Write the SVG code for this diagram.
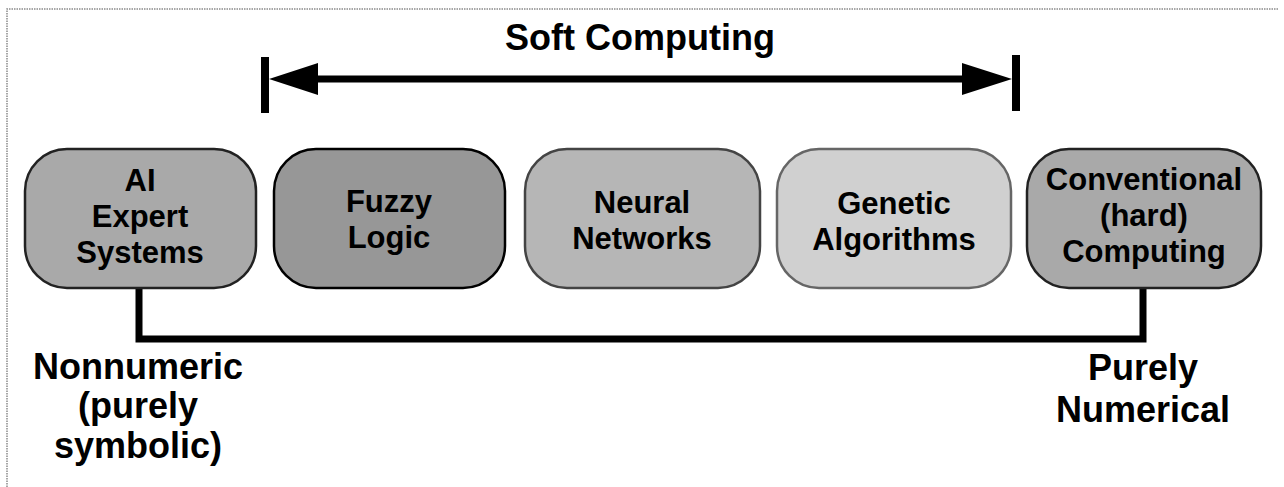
<svg xmlns="http://www.w3.org/2000/svg" width="1284" height="487" viewBox="0 0 1284 487">
<style>
  .frame { stroke:#8a8a8a; stroke-width:1.5; stroke-dasharray:1.5 1; fill:none; }
  .box { stroke-width:2.5; }
  .lbl { font-family:"Liberation Sans", Arial, Helvetica, sans-serif; font-weight:bold; fill:#000; text-anchor:middle; }
  .node { font-size:31px; }
  .big { font-size:36px; }
  .conn { stroke:#000; stroke-width:7; fill:none; stroke-linejoin:miter; }
</style>
<rect width="1284" height="487" fill="#fff"/>
<path class="frame" d="M7,487 V9 H1279"/>

<g id="title">
  <text class="lbl big" x="640" y="50">Soft Computing</text>
</g>

<g id="connectors">
  <line class="conn" x1="316" y1="79" x2="964" y2="79"/>
  <rect x="261" y="57" width="8" height="56" fill="#000"/>
  <polygon points="269,79 318,63 318,95" fill="#000"/>
  <rect x="1012" y="55" width="8" height="56" fill="#000"/>
  <polygon points="1012,79 962,63 962,95" fill="#000"/>
  <path class="conn" d="M139,288 V339 H1143 V288"/>
</g>

<g id="ai">
  <rect class="box" x="25" y="149" width="231" height="139" rx="42" fill="#a9a9a9" stroke="#222"/>
  <text class="lbl node" x="140" y="191">AI</text>
  <text class="lbl node" x="140" y="227">Expert</text>
  <text class="lbl node" x="140" y="263">Systems</text>
</g>

<g id="fuzzy">
  <rect class="box" x="274" y="149" width="231" height="139" rx="42" fill="#979797" stroke="#000" stroke-width="3"/>
  <text class="lbl node" x="389" y="212">Fuzzy</text>
  <text class="lbl node" x="389" y="248">Logic</text>
</g>

<g id="neural">
  <rect class="box" x="525" y="149" width="235" height="139" rx="42" fill="#b6b6b6" stroke="#444"/>
  <text class="lbl node" x="642" y="213">Neural</text>
  <text class="lbl node" x="642" y="249">Networks</text>
</g>

<g id="genetic">
  <rect class="box" x="777" y="149" width="234" height="139" rx="42" fill="#d0d0d0" stroke="#666" stroke-width="2"/>
  <text class="lbl node" x="894" y="214">Genetic</text>
  <text class="lbl node" x="894" y="250">Algorithms</text>
</g>

<g id="conventional">
  <rect class="box" x="1027" y="149" width="234" height="139" rx="42" fill="#a9a9a9" stroke="#222"/>
  <text class="lbl node" x="1144" y="190">Conventional</text>
  <text class="lbl node" x="1144" y="226">(hard)</text>
  <text class="lbl node" x="1144" y="262">Computing</text>
</g>

<g id="nonnumeric">
  <text class="lbl big" x="138" y="379">Nonnumeric</text>
  <text class="lbl big" x="138" y="418">(purely</text>
  <text class="lbl big" x="138" y="458">symbolic)</text>
</g>

<g id="numerical">
  <text class="lbl big" x="1143" y="380">Purely</text>
  <text class="lbl big" x="1143" y="422">Numerical</text>
</g>
</svg>
